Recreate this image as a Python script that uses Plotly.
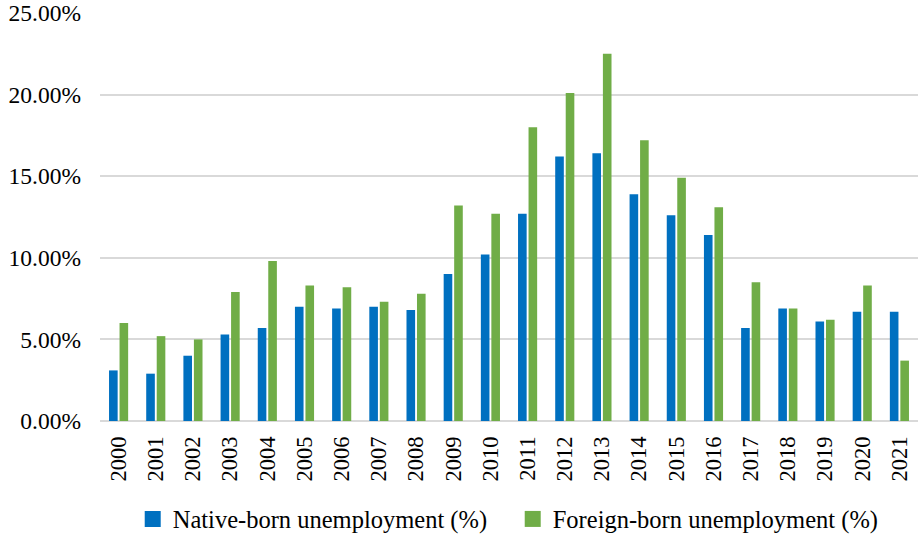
import plotly.graph_objects as go

years = [str(y) for y in range(2000, 2022)]
native = [3.1, 2.9, 4.0, 5.3, 5.7, 7.0, 6.9, 7.0, 6.8, 9.0, 10.2, 12.7, 16.2, 16.4,
          13.9, 12.6, 11.4, 5.7, 6.9, 6.1, 6.7, 6.7]
foreign = [6.0, 5.2, 5.0, 7.9, 9.8, 8.3, 8.2, 7.3, 7.8, 13.2, 12.7, 18.0, 20.1, 22.5,
           17.2, 14.9, 13.1, 8.5, 6.9, 6.2, 8.3, 3.7]
series_names = ["Native-born unemployment (%)", "Foreign-born unemployment (%)"]
colors = ["#0070C0", "#70AD47"]
ytick_vals = [0, 5, 10, 15, 20, 25]
ytick_text = ["0.00%", "5.00%", "10.00%", "15.00%", "20.00%", "25.00%"]

FONT = "Liberation Serif"

fig = go.Figure()
for vals, name, col in zip([native, foreign], series_names, colors):
    fig.add_trace(go.Bar(x=years, y=vals, name=name, showlegend=False,
                         marker=dict(color=col, line=dict(width=0))))
# legend entries with larger square swatches
for name, col in zip(series_names, colors):
    fig.add_trace(go.Scatter(x=[None], y=[None], mode="markers", name=name,
                             marker=dict(symbol="square", size=16, color=col),
                             hoverinfo="skip"))

fig.update_layout(
    width=919, height=535,
    margin=dict(l=100, r=1, t=13, b=114, autoexpand=False),
    paper_bgcolor="white", plot_bgcolor="white",
    font=dict(family=FONT, size=22, color="black"),
    barmode="group", bargap=0.435, bargroupgap=0.18,
    showlegend=True,
    legend=dict(orientation="h", x=0.04, xanchor="left", yref="container",
                y=16 / 535, yanchor="middle",
                font=dict(family=FONT, size=24.5), itemwidth=30, entrywidth=335,
                tracegroupgap=0),
    xaxis=dict(type="category", tickangle=-90, showgrid=False, showline=False,
               ticks="", ticklabelstandoff=10, tickfont=dict(family=FONT, size=22.5),
               automargin=False),
    yaxis=dict(range=[0, 25], tickvals=ytick_vals, ticktext=ytick_text,
               showgrid=True, gridcolor="#d9d9d9", gridwidth=1.5,
               zeroline=True, zerolinecolor="#d9d9d9", zerolinewidth=1.5,
               showline=False, ticks="", ticklabelstandoff=18,
               tickfont=dict(family=FONT, size=23.5), automargin=False),
)

fig.write_html("out.html")
